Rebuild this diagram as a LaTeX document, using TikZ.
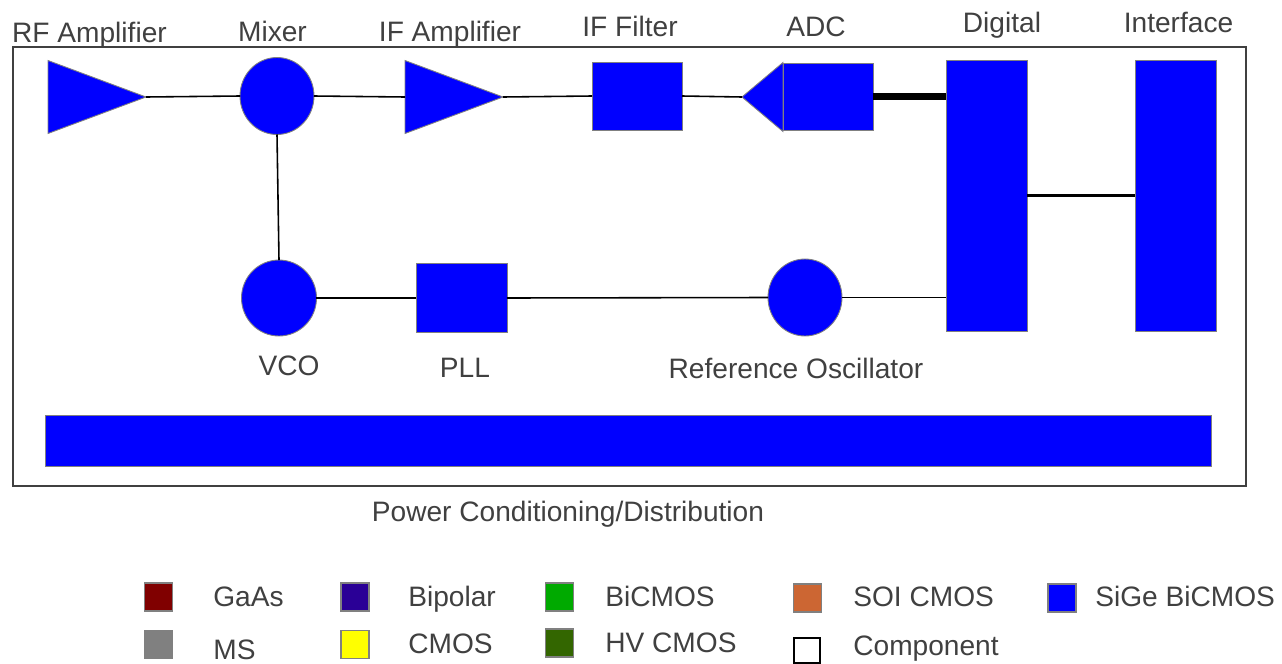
\documentclass[tikz,border=0pt]{standalone}
\usepackage{fontspec}
\setmainfont{Liberation Sans}
\usetikzlibrary{shapes.geometric}
\definecolor{gaas}{HTML}{800000}
\definecolor{bipolar}{HTML}{2A0096}
\definecolor{bicmos}{HTML}{00AA00}
\definecolor{soicmos}{HTML}{CC6633}
\definecolor{sige}{HTML}{0000FF}
\definecolor{ms}{HTML}{808080}
\definecolor{cmos}{HTML}{FFFF00}
\definecolor{hvcmos}{HTML}{336600}

\begin{document}
\begin{tikzpicture}[x=0.02cm,y=-0.02cm,
  blk/.style={draw=gray, line width=0.5pt, fill=sige, inner sep=0pt, outer sep=0pt},
  blkbox/.style={blk, rectangle},
  amp/.style={blk, isosceles triangle, isosceles triangle stretches,
    minimum width=1.46cm, minimum height=1.96cm},
  osc/.style={blk, ellipse, minimum width=1.48cm, minimum height=1.54cm},
  lbl/.style={text=black!75, font=\fontsize{16}{19}\selectfont, inner sep=0pt, anchor=base},
  wire/.style={black, line width=0.9pt},
  swatch/.style={draw=gray, line width=0.6pt, inner sep=0pt, minimum size=0.56cm}]
  \useasboundingbox (0,0) rectangle (1282,663);

  % outer frame
  \draw[black!75, line width=0.8pt] (13,47) rectangle (1246,486);

  % receive chain
  \node[amp, anchor=apex] (rf) at (146,97) {};
  \node[osc] (mixer) at (277,96) {};
  \node[amp, anchor=apex] (ifamp) at (503,97) {};
  \node[blkbox, minimum width=1.8cm, minimum height=1.36cm] (iffilt) at (637,96) {};
  \node[blk, isosceles triangle, isosceles triangle stretches, shape border rotate=180,
    minimum width=1.38cm, minimum height=0.82cm, anchor=apex] (adctri) at (742,97) {};
  \node[blkbox, minimum width=1.8cm, minimum height=1.34cm] (adc) at (828,96.5) {};
  \node[blkbox, minimum width=1.62cm, minimum height=5.42cm] (digital) at (986.5,195.5) {};
  \node[blkbox, minimum width=1.62cm, minimum height=5.42cm] (interface) at (1175.5,195.5) {};

  % synthesizer
  \node[osc, minimum width=1.5cm, minimum height=1.52cm] (vco) at (279,298) {};
  \node[blkbox, minimum width=1.82cm, minimum height=1.38cm] (pll) at (461.5,298) {};
  \node[osc] (refosc) at (805,297.5) {};

  % power
  \node[blkbox, minimum width=23.34cm, minimum height=1.02cm] (pwr) at (628.5,440.5) {};

  % connections
  \draw[wire] (rf.apex) -- (mixer.west);
  \draw[wire] (mixer.east) -- (ifamp.west);
  \draw[wire] (ifamp.apex) -- (iffilt.west);
  \draw[wire] (iffilt.east) -- (adctri.apex);
  \draw[black, line width=4.5pt] (adc.east) -- (adc.east -| digital.west);
  \draw[wire, line width=1.3pt] (digital.east) -- (interface.west);
  \draw[wire] (mixer.south) -- (vco.north);
  \draw[wire] (vco.east) -- (pll.west);
  \draw[wire] (pll.east) -- (refosc.west);
  \draw[wire] (refosc.east) -- (refosc.east -| digital.west);

  % labels
  \node[lbl] (lrf) at (89.5,42) {RF Amplifier};
  \node[lbl] (lmixer) at (272.5,41) {Mixer};
  \node[lbl] (lifamp) at (450,41) {IF Amplifier};
  \node[lbl] (liffilt) at (630,36) {IF Filter};
  \node[lbl] (ladc) at (816,36) {ADC};
  \node[lbl] (ldigital) at (1002,32) {Digital};
  \node[lbl] (linterface) at (1178.5,32) {Interface};
  \node[lbl] (lvco) at (289,375) {VCO};
  \node[lbl] (lpll) at (465,377) {PLL};
  \node[lbl] (lrefosc) at (796,378) {Reference Oscillator};
  \node[lbl] (lpwr) at (568,521) {Power Conditioning/Distribution};

  % legend
  \node[swatch, fill=gaas] (sgaas) at (158.5,597) {};
  \node[lbl, anchor=base west] at (213,606) {GaAs};
  \node[swatch, fill=bipolar] (sbipolar) at (355,597) {};
  \node[lbl, anchor=base west] at (408,606) {Bipolar};
  \node[swatch, fill=bicmos] (sbicmos) at (559.5,597) {};
  \node[lbl, anchor=base west] at (605,606) {BiCMOS};
  \node[swatch, fill=soicmos] (ssoi) at (807.5,598) {};
  \node[lbl, anchor=base west] at (853,606) {SOI CMOS};
  \node[swatch, fill=sige] (ssige) at (1062,598) {};
  \node[lbl, anchor=base west] at (1095,606) {SiGe BiCMOS};
  \node[swatch, fill=ms] (sms) at (158.5,644.5) {};
  \node[lbl, anchor=base west] at (213,659) {MS};
  \node[swatch, fill=cmos] (scmos) at (355,644.5) {};
  \node[lbl, anchor=base west] at (408,653) {CMOS};
  \node[swatch, fill=hvcmos] (shvcmos) at (559.5,643) {};
  \node[lbl, anchor=base west] at (605,652) {HV CMOS};
  \node[draw=black, line width=0.8pt, fill=white, inner sep=0pt,
    minimum width=0.52cm, minimum height=0.5cm] (scomp) at (807,650.5) {};
  \node[lbl, anchor=base west] at (853,655) {Component};
\end{tikzpicture}
\end{document}
